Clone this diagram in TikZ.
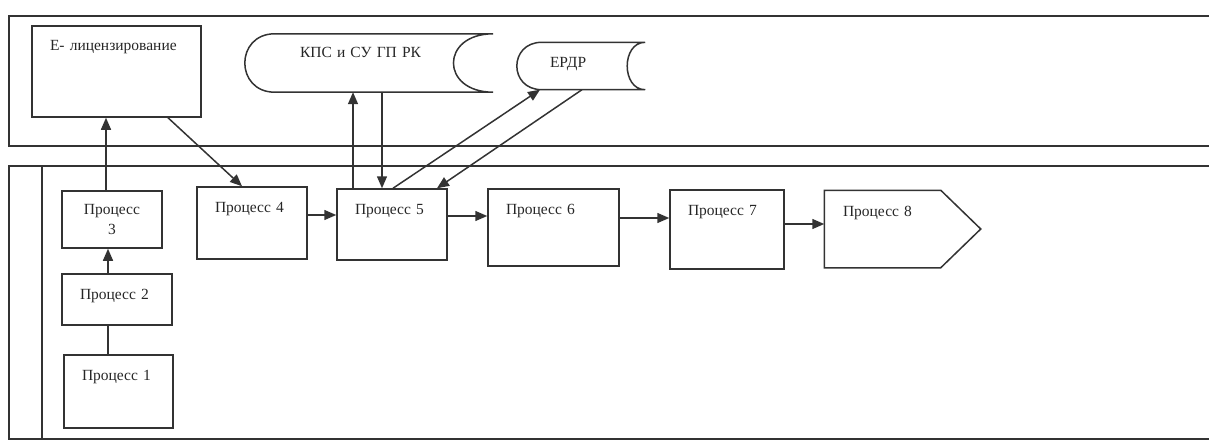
\documentclass[tikz,border=0pt]{standalone}
\usepackage{fontspec}
\setmainfont{Liberation Serif}
\usetikzlibrary{arrows.meta,calc}
\begin{document}
\begin{tikzpicture}[x=1pt,y=-1pt,
  ln/.style={line width=1.5pt,draw=black!80},
  arr/.style={ln,-{Triangle[length=12pt,width=10pt]}},
  txt/.style={font=\fontsize{15.5}{20}\selectfont,text=black!85},
  proc/.style={ln,txt,inner ysep=0pt,inner xsep=18pt,align=left,text height=25pt},
  ghost/.style={draw=none,txt,inner ysep=0pt,align=left,text height=24pt}
]
\useasboundingbox (0,0) rectangle (1209,441);
% lanes
\draw[ln] (1209,16) -- (9,16) -- (9,146) -- (1209,146);
\draw[ln] (1209,166) -- (9,166) -- (9,439) -- (1209,439);
\draw[ln] (42,166) -- (42,439);

% top lane
\node[proc,text width=133pt,text depth=66pt] (e) at (116.5,71.5) {E- лицензирование};
\node[ghost,inner xsep=55pt,text width=138pt,text depth=34pt] (kps) at (369,63) {КПС и СУ ГП РК};
\node[ghost,inner xsep=33pt,text width=62pt,text depth=22pt,text height=25pt] (erdr) at (581,66) {ЕРДР};
\draw[ln] (kps.north east) -- ([xshift=30pt]kps.north west)
  .. controls ([xshift=-10pt]kps.north west) and ([xshift=-10pt]kps.south west) .. ([xshift=30pt]kps.south west)
  -- (kps.south east)
  .. controls ([xshift=-53pt]kps.south east) and ([xshift=-53pt]kps.north east) .. (kps.north east);
\draw[ln] (erdr.north east) -- ([xshift=25pt]erdr.north west)
  .. controls ([xshift=-8.3pt]erdr.north west) and ([xshift=-8.3pt]erdr.south west) .. ([xshift=25pt]erdr.south west)
  -- (erdr.south east)
  .. controls ([xshift=-24pt]erdr.south east) and ([xshift=-24pt]erdr.north east) .. (erdr.north east);

% bottom lane
\node[ln,txt,align=center,inner sep=0pt,minimum width=100pt,minimum height=57pt] (p3) at (112,219.5) {Процесс\\3};
\node[proc,text width=74pt,text depth=26pt] (p2) at (117,299.5) {Процесс 2};
\node[proc,text width=73pt,text depth=48pt] (p1) at (118.5,391.5) {Процесс 1};
\node[proc,text width=74pt,text depth=47pt] (p4) at (252,223) {Процесс 4};
\node[proc,text width=74pt,text depth=46pt] (p5) at (392,224.5) {Процесс 5};
\node[proc,text width=95pt,text depth=52pt] (p6) at (553.5,227.5) {Процесс 6};
\node[proc,text width=78pt,text depth=54pt] (p7) at (727,229.5) {Процесс 7};
\node[proc,draw=none,text width=119pt,text depth=51pt] (p8) at (902.5,229) {Процесс 8};
\draw[ln] (p8.north west) -- ([xshift=-40pt]p8.north east) -- (p8.east)
  -- ([xshift=-40pt]p8.south east) -- (p8.south west) -- cycle;

% connectors
\draw[ln] ([xshift=-10.5pt]p1.north) -- ([xshift=-10.5pt]p1.north |- p2.south);
\draw[arr] ([xshift=-9pt]p2.north) -- ([xshift=-9pt]p2.north |- p3.south);
\draw[arr] ([xshift=-6pt]p3.north) -- ([xshift=-6pt]p3.north |- e.south);
\draw[arr] ([xshift=51.5pt]e.south) -- ([xshift=-10pt]p4.north);
\draw[arr] ([yshift=8pt]p4.east) -- ([yshift=8pt]p4.east -| p5.west);
\draw[arr] ([xshift=-39pt]p5.north) -- ([xshift=-39pt]p5.north |- kps.south);
\draw[arr] ([xshift=-10pt]p5.north |- kps.south) -- ([xshift=-10pt]p5.north);
\draw[arr] ([xshift=1pt]p5.north) -- ([xshift=-41pt]erdr.south);
\draw[arr] ([xshift=1pt]erdr.south) -- ([xshift=45pt]p5.north);
\draw[arr] ([yshift=8.5pt]p5.east) -- ([yshift=8.5pt]p5.east -| p6.west);
\draw[arr] ([yshift=9.5pt]p6.east) -- ([yshift=9.5pt]p6.east -| p7.west);
\draw[arr] ([yshift=5.5pt]p7.east) -- ([yshift=5.5pt]p7.east -| p8.west);
\end{tikzpicture}
\end{document}
